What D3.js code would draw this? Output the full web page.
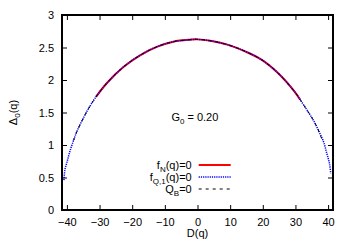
<!DOCTYPE html>
<html>
<head>
<meta charset="utf-8">
<script src="https://cdn.jsdelivr.net/npm/d3@7"></script>
<style>
  body { margin: 0; background: #fff; }
  text { font-family: "Liberation Sans", Arial, sans-serif; }
</style>
</head>
<body>
<div id="chart-area"></div>
<script>
// values
var xTicks = [-40, -30, -20, -10, 0, 10, 20, 30, 40];
var yTicks = [0, 0.5, 1, 1.5, 2, 2.5, 3];

// f_Q,1(q)=0 (blue dotted), full branch
var blueD = [-40.9, -40.6, -39.9, -39.1, -38.1, -37.0, -35.5, -33.5, -31.1, -27.8, -22.7, -17.6, -12.5, -7.4, -2.3, 0, 4.35, 9.4, 14.6, 19.7, 24.8, 29.9, 31.4, 33.5, 35.5, 37.0, 38.6, 39.6, 40.4, 40.8];
var blueV = [0.46, 0.62, 0.75, 0.90, 1.05, 1.20, 1.36, 1.55, 1.74, 1.95, 2.20, 2.38, 2.51, 2.59, 2.62, 2.625, 2.60, 2.54, 2.44, 2.31, 2.10, 1.81, 1.70, 1.54, 1.38, 1.23, 1.05, 0.87, 0.72, 0.56];

// f_N(q)=0 (red solid), inner part
var redD = [-31.1, -27.8, -22.7, -17.6, -12.5, -7.4, -2.3, 0, 4.35, 9.4, 14.6, 19.7, 24.8, 29.9, 31.4];
var redV = [1.74, 1.95, 2.20, 2.38, 2.51, 2.59, 2.62, 2.625, 2.60, 2.54, 2.44, 2.31, 2.10, 1.81, 1.70];

// Q_B=0 (black dashed)
var blackD = [-38.0, -37.0, -35.5, -33.5, -31.1, -27.8, -22.7, -17.6, -12.5, -7.4, -2.3, 0, 4.35, 9.4, 14.6, 19.7, 24.8, 29.9, 31.4, 33.5, 35.5, 37.0, 38.0];
var blackV = [1.07, 1.20, 1.36, 1.55, 1.74, 1.95, 2.20, 2.38, 2.51, 2.59, 2.62, 2.625, 2.60, 2.54, 2.44, 2.31, 2.10, 1.81, 1.70, 1.54, 1.38, 1.23, 1.10];

var svgWidth = 354, svgHeight = 248;
var margin = { top: 15, left: 62, bottom: 38, right: 21 };
var width = svgWidth - margin.left - margin.right;
var height = svgHeight - margin.top - margin.bottom;

var svg = d3.select("#chart-area")
            .append("svg")
            .attr("width", svgWidth)
            .attr("height", svgHeight);

var g = svg.append("g")
           .attr("transform", "translate(" + margin.left + "," + margin.top + ")");

var x = d3.scaleLinear().domain([-41.5, 41.5]).range([0, width]);
var y = d3.scaleLinear().domain([0, 3]).range([height, 0]);

// axes with inward ticks, mirrored
var tickLen = 5;
g.append("g")
 .attr("transform", "translate(0," + height + ")")
 .call(d3.axisBottom(x).tickValues(xTicks).tickSize(-tickLen).tickPadding(8).tickFormat(d3.format("d")))
 .call(a => a.select(".domain").remove())
 .selectAll("text").attr("font-size", 11).attr("fill", "#000");

g.append("g")
 .call(d3.axisTop(x).tickValues(xTicks).tickSize(-tickLen).tickFormat(""))
 .call(a => a.select(".domain").remove());

g.append("g")
 .call(d3.axisLeft(y).tickValues(yTicks).tickSize(-tickLen).tickPadding(8).tickFormat(d => d))
 .call(a => a.select(".domain").remove())
 .selectAll("text").attr("font-size", 11).attr("fill", "#000");

g.append("g")
 .attr("transform", "translate(" + width + ",0)")
 .call(d3.axisRight(y).tickValues(yTicks).tickSize(-tickLen).tickFormat(""))
 .call(a => a.select(".domain").remove());

g.selectAll(".tick line").attr("stroke", "#000").attr("stroke-width", 1);

var line = d3.line()
             .x(d => x(d[0]))
             .y(d => y(d[1]))
             .curve(d3.curveCatmullRom);

function pairs(a, b) { return a.map((v, i) => [v, b[i]]); }

g.append("path")
 .attr("d", line(pairs(redD, redV)))
 .attr("fill", "none")
 .attr("stroke", "#f00")
 .attr("stroke-width", 2);

g.append("path")
 .attr("d", line(pairs(blueD, blueV)))
 .attr("fill", "none")
 .attr("stroke", "#00f")
 .attr("stroke-width", 1.5)
 .attr("stroke-dasharray", "1.2,1");

g.append("path")
 .attr("d", line(pairs(blackD, blackV)))
 .attr("fill", "none")
 .attr("stroke", "#000")
 .attr("stroke-width", 1)
 .attr("stroke-dasharray", "3,4");

// frame
g.append("rect")
 .attr("width", width)
 .attr("height", height)
 .attr("fill", "none")
 .attr("stroke", "#000")
 .attr("stroke-width", 2);

// annotation
var ann = g.append("text")
           .attr("x", x(-0.8))
           .attr("y", y(1.37))
           .attr("text-anchor", "middle")
           .attr("font-size", 11);
ann.append("tspan").text("G");
ann.append("tspan").attr("font-size", 8).attr("dy", 3).text("0");
ann.append("tspan").attr("dy", -3).text(" = 0.20");

// legend
var legend = [
  { main: "f", sub: "N", rest: "(q)=0", color: "#f00", w: 2, dash: null },
  { main: "f", sub: "Q,1", rest: "(q)=0", color: "#00f", w: 1.5, dash: "1.2,1" },
  { main: "Q", sub: "B", rest: "=0", color: "#000", w: 1, dash: "3,4" }
];
var legX = 191.7 - margin.left, legY0 = 165 - margin.top, legStep = 12;
legend.forEach(function(d, i) {
  var yy = legY0 + i * legStep;
  var t = g.append("text")
           .attr("x", legX)
           .attr("y", yy + 4)
           .attr("text-anchor", "end")
           .attr("font-size", 11);
  t.append("tspan").text(d.main);
  t.append("tspan").attr("font-size", 8).attr("dy", 3).text(d.sub);
  t.append("tspan").attr("dy", -3).text(d.rest);
  g.append("line")
   .attr("x1", legX + 7).attr("x2", legX + 39)
   .attr("y1", yy).attr("y2", yy)
   .attr("stroke", d.color)
   .attr("stroke-width", d.w)
   .attr("stroke-dasharray", d.dash);
});

// axis labels
var yl = svg.append("text")
            .attr("transform", "translate(17," + (margin.top + height / 2) + ") rotate(-90)")
            .attr("text-anchor", "middle")
            .attr("font-size", 11);
yl.append("tspan").text("Δ");
yl.append("tspan").attr("font-size", 8).attr("dy", 3).text("0");
yl.append("tspan").attr("dy", -3).text("(q)");

svg.append("text")
   .attr("x", margin.left + x(0))
   .attr("y", 237)
   .attr("text-anchor", "middle")
   .attr("font-size", 11)
   .text("D(q)");
</script>
</body>
</html>
